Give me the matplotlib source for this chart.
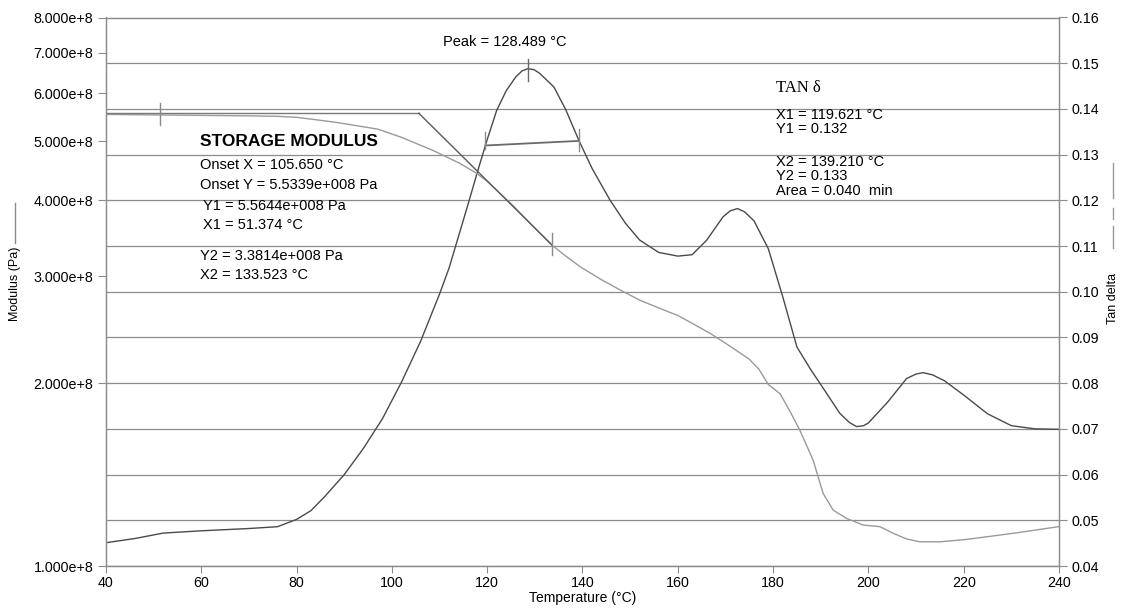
import numpy as np
import matplotlib.pyplot as plt
from matplotlib.ticker import FixedLocator, FuncFormatter, NullLocator
from matplotlib.lines import Line2D

plt.rcParams['font.family'] = ['Liberation Sans', 'DejaVu Sans']

# tan delta curve
temp_tan = [40, 46, 52, 60, 70, 76, 80, 83, 86, 90, 94, 98, 102, 106, 110, 112, 114, 116, 118,
            120, 122, 124, 126, 127.3, 128.5, 129.8, 131, 134, 136.5, 139.2, 142, 145.8, 149,
            152, 156, 160, 163, 166, 169.5, 171, 172.5, 174, 176, 179, 182, 185, 188, 190, 194,
            196, 197.5, 199, 200, 204, 208, 210, 211.5, 213.5, 216, 220, 225, 230, 235, 240]
tan_delta = [0.0451, 0.0460, 0.0472, 0.0477, 0.0482, 0.0486, 0.0502, 0.0521, 0.0553, 0.0600,
             0.0657, 0.0722, 0.0802, 0.0891, 0.0995, 0.1052, 0.1122, 0.1192, 0.1264,
             0.1333, 0.1397, 0.1440, 0.1470, 0.1483, 0.1488, 0.1486, 0.1478, 0.1448, 0.1398,
             0.1332, 0.1270, 0.1200, 0.1150, 0.1113, 0.1086, 0.1078, 0.1081, 0.1112, 0.1164,
             0.1177, 0.1182, 0.1175, 0.1155, 0.1094, 0.0990, 0.0879, 0.0828, 0.0797, 0.0734,
             0.0714, 0.0705, 0.0707, 0.0713, 0.0758, 0.0810, 0.0820, 0.0823, 0.0818, 0.0805,
             0.0774, 0.0733, 0.0707, 0.0700, 0.0699]

# storage modulus curve, Pa
temp_mod = [40, 50, 60, 70, 76, 80, 88, 97, 102, 108.7, 114.3, 117.8, 120, 125, 130, 133.5,
            136, 139.5, 144, 148, 152, 156, 160, 163, 167, 171, 175, 177, 179, 181.5, 183.5,
            185.6, 188.4, 190.5, 192.6, 195.4, 198.9, 202.4, 205.2, 208, 210.8, 215, 220.6,
            230.4, 240]
modulus = [5.54, 5.53, 5.52, 5.51, 5.50, 5.48, 5.38, 5.24, 5.08, 4.83, 4.60, 4.43, 4.30,
           3.95, 3.60, 3.38, 3.26, 3.11, 2.96, 2.845, 2.74, 2.66, 2.585, 2.51, 2.41, 2.30,
           2.19, 2.11, 1.99, 1.92, 1.80, 1.674, 1.494, 1.317, 1.236, 1.198, 1.168, 1.161,
           1.132, 1.108, 1.096, 1.096, 1.106, 1.132, 1.161]
modulus = [m * 1e8 for m in modulus]

# analysis results
onset_x, onset_y = 105.650, 5.5339e8
x1_mod, y1_mod = 51.374, 5.5644e8
x2_mod, y2_mod = 133.523, 3.3814e8
peak_x, peak_y = 128.489, 0.1488
x1_tan, y1_tan = 119.621, 0.132
x2_tan, y2_tan = 139.210, 0.133

mod_ticks = [1e8, 2e8, 3e8, 4e8, 5e8, 6e8, 7e8, 8e8]
tan_ticks = [0.04, 0.05, 0.06, 0.07, 0.08, 0.09, 0.10, 0.11, 0.12, 0.13, 0.14, 0.15, 0.16]
temp_ticks = [40, 60, 80, 100, 120, 140, 160, 180, 200, 220, 240]

W, H = 1125, 610
fig = plt.figure(figsize=(W / 100, H / 100), dpi=100)
L, R, T, B = 106, 1059, 17.5, 566
ax = fig.add_axes([L / W, 1 - B / H, (R - L) / W, (B - T) / H])
ax2 = ax.twinx()
ax2.set_zorder(ax.get_zorder() - 1)
ax.patch.set_visible(False)

grid_c = '#8c8c8c'
dark = '#4a4a4a'
light = '#9a9a9a'

# tan delta side
ax2.plot(temp_tan, tan_delta, color=dark, lw=1.0)
ax2.plot([x1_tan, x2_tan], [y1_tan, y2_tan], color='#6a6a6a', lw=1.3)
ax2.plot([peak_x, peak_x], [0.1462, 0.1510], color='#6a6a6a', lw=1.0)
ax2.plot([x1_tan, x1_tan], [0.1313, 0.1349], color='#8a8a8a', lw=1.0)
ax2.plot([x2_tan, x2_tan], [0.1309, 0.1357], color='#8a8a8a', lw=1.0)
ax2.set_ylim(0.04, 0.16)
ax2.yaxis.set_major_locator(FixedLocator(tan_ticks))
ax2.yaxis.set_major_formatter(FuncFormatter(lambda v, p: f'{v:.2f}'))
ax2.grid(True, color=grid_c, lw=0.9)
ax2.tick_params(axis='y', length=6, width=0.8, color=grid_c, labelsize=10.3, pad=3)

# modulus side
ax.set_yscale('log')
ax.plot(temp_mod, modulus, color=light, lw=1.0)
ax.plot([40, onset_x], [y1_mod, y1_mod], color='#7a7a7a', lw=1.0)
ax.plot([onset_x, x2_mod], [y1_mod, y2_mod], color='#5a5a5a', lw=1.0)
ax.plot([x1_mod, x1_mod], [5.314e8, 5.776e8], color='#8a8a8a', lw=1.0)
ax.plot([x2_mod, x2_mod], [3.248e8, 3.53e8], color='#8a8a8a', lw=1.0)
ax.set_ylim(1e8, 8e8)
ax.set_xlim(40, 240)
ax.yaxis.set_major_locator(FixedLocator(mod_ticks))
ax.yaxis.set_minor_locator(NullLocator())
ax.yaxis.set_major_formatter(FuncFormatter(lambda v, p: f'{v / 1e8:.3f}e+8'))
ax.xaxis.set_major_locator(FixedLocator(temp_ticks))
ax2.xaxis.set_major_locator(FixedLocator(temp_ticks))
ax2.grid(True, axis='x', color=grid_c, lw=0.9)
ax.tick_params(axis='y', length=6, width=0.8, color=grid_c, labelsize=10.3, pad=3)
ax.tick_params(axis='x', length=5, width=0.8, color=grid_c, labelsize=10.3, pad=2)
ax.set_xlabel('Temperature (°C)', fontsize=10, labelpad=1)

for a in (ax, ax2):
    for s in a.spines.values():
        s.set_color(grid_c)
        s.set_linewidth(0.9)


def ftext(px, py, s, **kw):
    fig.text(px / W, 1 - py / H, s, va='center', **kw)


def fline(xs, ys, **kw):
    fig.add_artist(Line2D([x / W for x in xs], [1 - y / H for y in ys],
                          transform=fig.transFigure, **kw))


# axis titles with their legend strokes
ftext(15, 284, 'Modulus (Pa)', rotation=90, ha='center', fontsize=9)
fline([15, 15], [203, 243], color='#8a8a8a', lw=1.0)
ftext(1113, 298, 'Tan delta', rotation=90, ha='center', fontsize=9)
fline([1113, 1113], [163, 198], color='#9a9a9a', lw=1.0)
fline([1113, 1113], [208, 219], color='#9a9a9a', lw=1.0)
fline([1113, 1113], [226, 248], color='#9a9a9a', lw=1.0)

# storage modulus results
ftext(200, 142, 'STORAGE MODULUS', fontsize=12.5, fontweight='bold')
ftext(200, 165, 'Onset X = 105.650 °C', fontsize=10.5)
ftext(200, 185, 'Onset Y = 5.5339e+008 Pa', fontsize=10.5)
ftext(203, 206, 'Y1 = 5.5644e+008 Pa', fontsize=10.5)
ftext(203, 225, 'X1 = 51.374 °C', fontsize=10.5)
ftext(200, 256, 'Y2 = 3.3814e+008 Pa', fontsize=10.5)
ftext(200, 275, 'X2 = 133.523 °C', fontsize=10.5)

# tan delta results
ftext(443, 42, 'Peak = 128.489 °C', fontsize=10.5)
ftext(776, 88, 'TAN δ', fontsize=12, family=['Liberation Serif', 'DejaVu Serif'])
ftext(776, 115, 'X1 = 119.621 °C', fontsize=10.5)
ftext(776, 129, 'Y1 = 0.132', fontsize=10.5)
ftext(776, 162, 'X2 = 139.210 °C', fontsize=10.5)
ftext(776, 176, 'Y2 = 0.133', fontsize=10.5)
ftext(776, 191, 'Area = 0.040  min', fontsize=10.5)

fig.savefig('out.png', dpi=100)
